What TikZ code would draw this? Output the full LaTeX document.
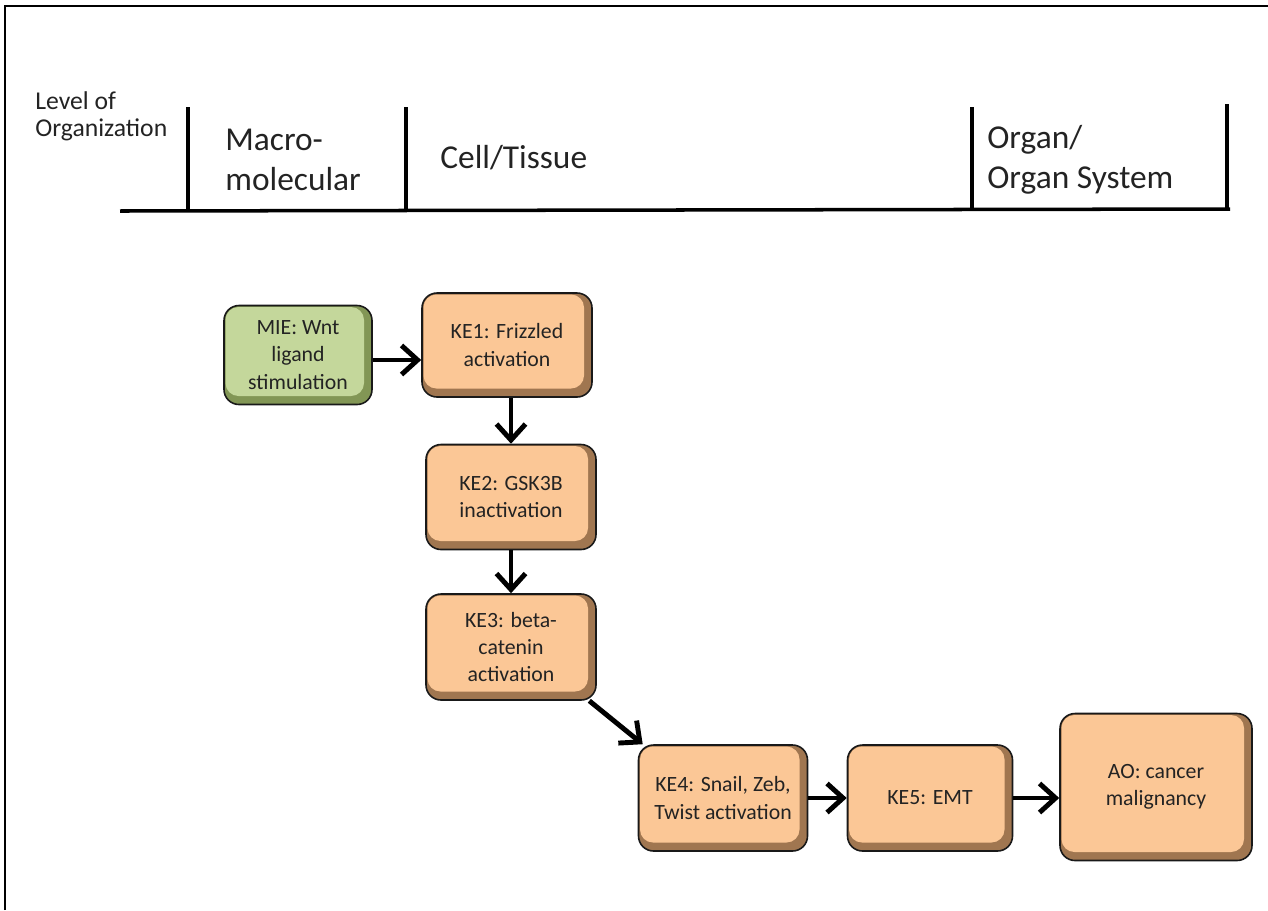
\documentclass[tikz,border=0pt]{standalone}
\usepackage{fontspec}
\setmainfont{Carlito}
\usetikzlibrary{arrows.meta}
\definecolor{kefill}{RGB}{251,199,150}
\definecolor{keshade}{RGB}{160,118,80}
\definecolor{miefill}{RGB}{196,215,155}
\definecolor{mieshade}{RGB}{130,150,85}
\definecolor{textgray}{RGB}{35,35,35}
\begin{document}
\begin{tikzpicture}[x=0.2mm,y=-0.2mm,
    event/.style={draw=black!90,line width=0.9pt,fill=keshade,rounded corners=3mm,
      align=center,text=textgray,inner sep=0pt,
      font=\fontsize{12.4}{15.5}\selectfont,
      path picture={\fill[kefill,rounded corners=2.6mm]
        ([shift={(0.3mm,-0.3mm)}]path picture bounding box.north west) rectangle
        ([shift={(-1.6mm,1.7mm)}]path picture bounding box.south east);}},
    mie/.style={event,fill=mieshade,
      path picture={\fill[miefill,rounded corners=2.6mm]
        ([shift={(0.3mm,-0.3mm)}]path picture bounding box.north west) rectangle
        ([shift={(-1.6mm,1.7mm)}]path picture bounding box.south east);}},
    level/.style={anchor=west,align=left,text=textgray,inner sep=0pt,
      font=\fontsize{19}{22.8}\selectfont},
    flow/.style={line width=2.8pt,-{Straight Barb[length=3.2mm,width=5.8mm]}}]
    
    \useasboundingbox (0,0) rectangle (1268,910);
    \draw[line width=1.6pt] (5,910) -- (5,6) -- (1268,6);
    
    % levels of organization
    \draw[line width=2pt] (120,211) -- (1230,209);
    \draw[line width=2pt] (188,107) -- (188,211);
    \draw[line width=2pt] (406,107) -- (406,211);
    \draw[line width=2pt] (972,107) -- (972,209);
    \draw[line width=2pt] (1227,104) -- (1227,209);
    
    \node[level,font=\fontsize{14.6}{15.4}\selectfont] (lvl) at (35,116) {Level of\\Organization};
    \node[level] (macro) at (225,160) {Macro-\\molecular};
    \node[level] (cell) at (440,158) {Cell/Tissue};
    \node[level] (organ) at (987,160) {Organ/\\Organ System};
    
    % events
    \node[mie,minimum width=29.6mm,minimum height=19.8mm] (MIE) at (298,355) {MIE: Wnt\\ligand\\stimulation};
    \node[event,minimum width=34mm,minimum height=20.8mm] (KE1) at (507,345) {KE1: Frizzled\\activation};
    \node[event,minimum width=34mm,minimum height=21mm] (KE2) at (511,497) {KE2: GSK3B\\inactivation};
    \node[event,minimum width=34mm,minimum height=21.2mm] (KE3) at (511,647) {KE3: beta-\\catenin\\activation};
    \node[event,minimum width=33.8mm,minimum height=21.2mm] (KE4) at (723,798) {KE4: Snail, Zeb,\\Twist activation};
    \node[event,minimum width=33mm,minimum height=21.2mm] (KE5) at (930,798) {KE5: EMT};
    \node[event,minimum width=38.4mm,minimum height=29.4mm] (AO) at (1156,787) {AO: cancer\\malignancy};
    
    \draw[flow] ([yshift=-1mm]MIE.east) -- ([yshift=-1mm]MIE.east -| KE1.west);
    \draw[flow] (KE1.south -| KE2.north) -- (KE2.north);
    \draw[flow] (KE2.south) -- (KE3.north);
    \draw[flow] ([xshift=-1.5mm]KE3.south east) -- ([xshift=1mm]KE4.north west);
    \draw[flow] (KE4.east) -- (KE5.west);
    \draw[flow] (KE5.east) -- (KE5.east -| AO.west);
    
\end{tikzpicture}
\end{document}
